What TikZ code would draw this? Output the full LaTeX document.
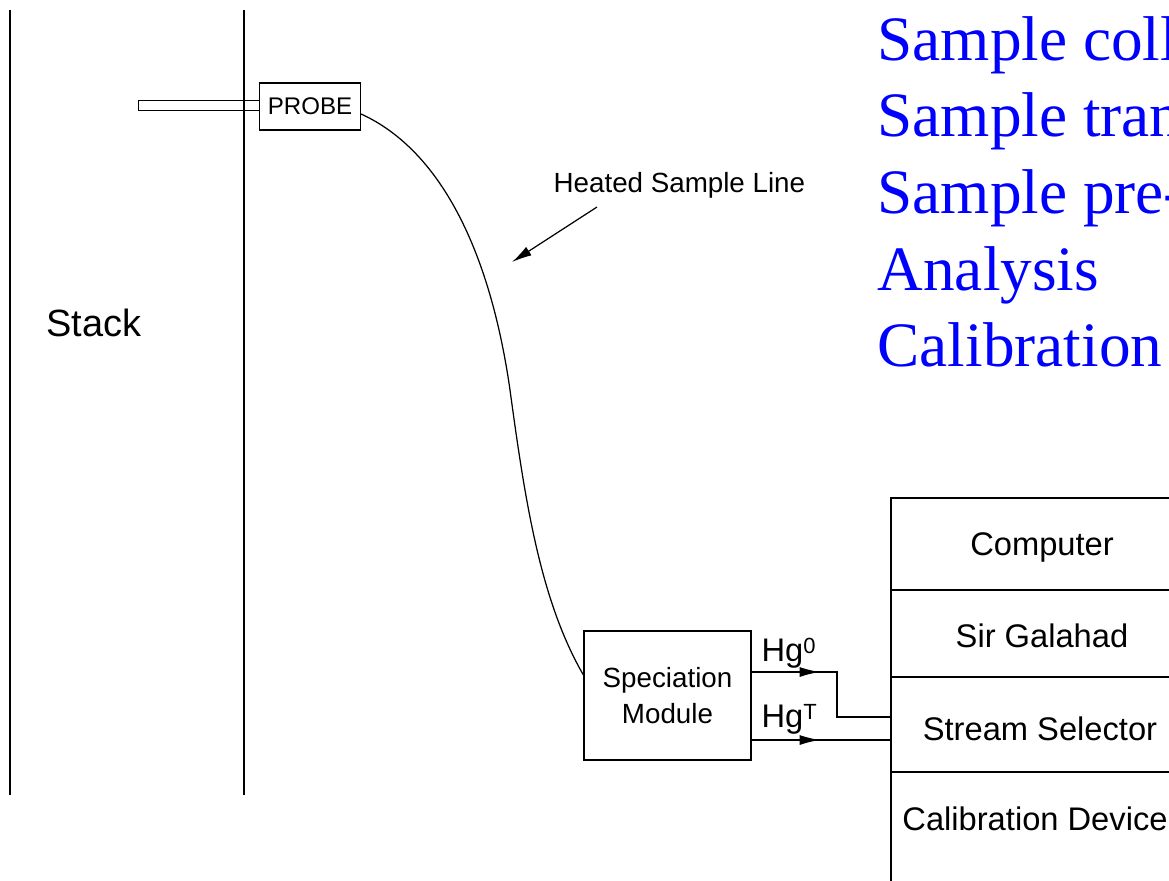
\documentclass[tikz,border=0pt]{standalone}
\usepackage{fontspec}
\setmainfont{Liberation Sans}
\newfontfamily\slidefont{Liberation Serif}
\usetikzlibrary{arrows.meta,decorations.markings}

\newcommand\cellfont{\fontsize{18.6}{22}\selectfont}
\newcommand\smallfont{\fontsize{15.8}{20.5}\selectfont}
\newcommand\supfont{\fontsize{12.5}{14}\selectfont}

\tikzset{
  box/.style={draw, inner sep=0pt},
  lbl/.style={inner sep=0pt},
  flowarrow/.style={postaction={decorate},
    decoration={markings, mark=at position 1.36cm with {\arrow{Latex[length=0.4cm,width=0.2cm]}}}}
}

\begin{document}
\begin{tikzpicture}[x=0.02cm, y=-0.02cm, line width=0.7pt] % one unit = one pixel, y runs down
  \useasboundingbox (0,0) rectangle (1169,880);
  \clip (0,0) rectangle (1169,880);

  % stack walls
  \draw (10,10) -- (10,795);
  \draw (244,10) -- (244,795);
  \node[lbl, anchor=base west, font=\fontsize{21.6}{26}\selectfont] (stack) at (46,336) {Stack};

  % probe and its tube through the wall
  \node[box, minimum width=2.02cm, minimum height=0.94cm, font=\fontsize{13.7}{16}\selectfont] (probe) at (310,106.5) {PROBE};
  \node[box, minimum width=2.42cm, minimum height=0.21cm, anchor=east] (tube) at (260,105.5) {};

  % speciation module
  \node[box, minimum width=3.34cm, minimum height=2.58cm, align=center, font=\smallfont] (spec) at (667.5,695.5) {Speciation\\Module};

  % heated line from probe down to the module
  \draw (probe.east |- 0,114) .. controls (440,150) and (490,250) .. (510,390)
        .. controls (525,500) and (540,600) .. (spec.west |- 0,675);

  \node[lbl, anchor=base west, font=\smallfont] (hsl) at (553,192) {Heated Sample Line};
  \coordinate (hsltail) at (597,207);
  \coordinate (hsltip) at (512,262);
  \draw[-{Latex[length=0.4cm,width=0.2cm]}] (hsltail) -- (hsltip);

  % analyser column
  \draw (1200,498) -- (891,498) -- (891,900);
  \draw (891,590) -- (1200,590);
  \draw (891,677) -- (1200,677);
  \draw (891,772) -- (1200,772);
  \node[lbl, anchor=base, font=\cellfont] (computer) at (1042,555) {Computer};
  \node[lbl, anchor=base, font=\cellfont] (galahad) at (1042,647) {Sir Galahad};
  \node[lbl, anchor=base, font=\cellfont] (selector) at (1040,740) {Stream Selector};
  \node[lbl, anchor=base, font=\cellfont] (calib) at (1035,830) {Calibration Device};

  % the two mercury streams
  \coordinate (sel0) at (891,717);
  \coordinate (selT) at (891,740);
  \draw[flowarrow] (spec.east |- 0,672) -- (837,672) |- (sel0);
  \draw[flowarrow] (spec.east |- 0,740) -- (selT);
  \node[lbl, anchor=base west, font=\cellfont] (hg0) at (761,661) {Hg\raisebox{4.5pt}{\supfont 0}};
  \node[lbl, anchor=base west, font=\cellfont] (hgT) at (761,727) {Hg\raisebox{4.5pt}{\supfont T}};

  % task list
  \foreach \txt [count=\i] in {Sample collection, Sample transport, Sample pre-conditioning, Analysis, Calibration}
    \node[lbl, anchor=base west, text=blue, font=\slidefont\fontsize{36}{43}\selectfont] (task\i) at (877,{-16.7+76.7*\i}) {\txt};
\end{tikzpicture}
\end{document}
